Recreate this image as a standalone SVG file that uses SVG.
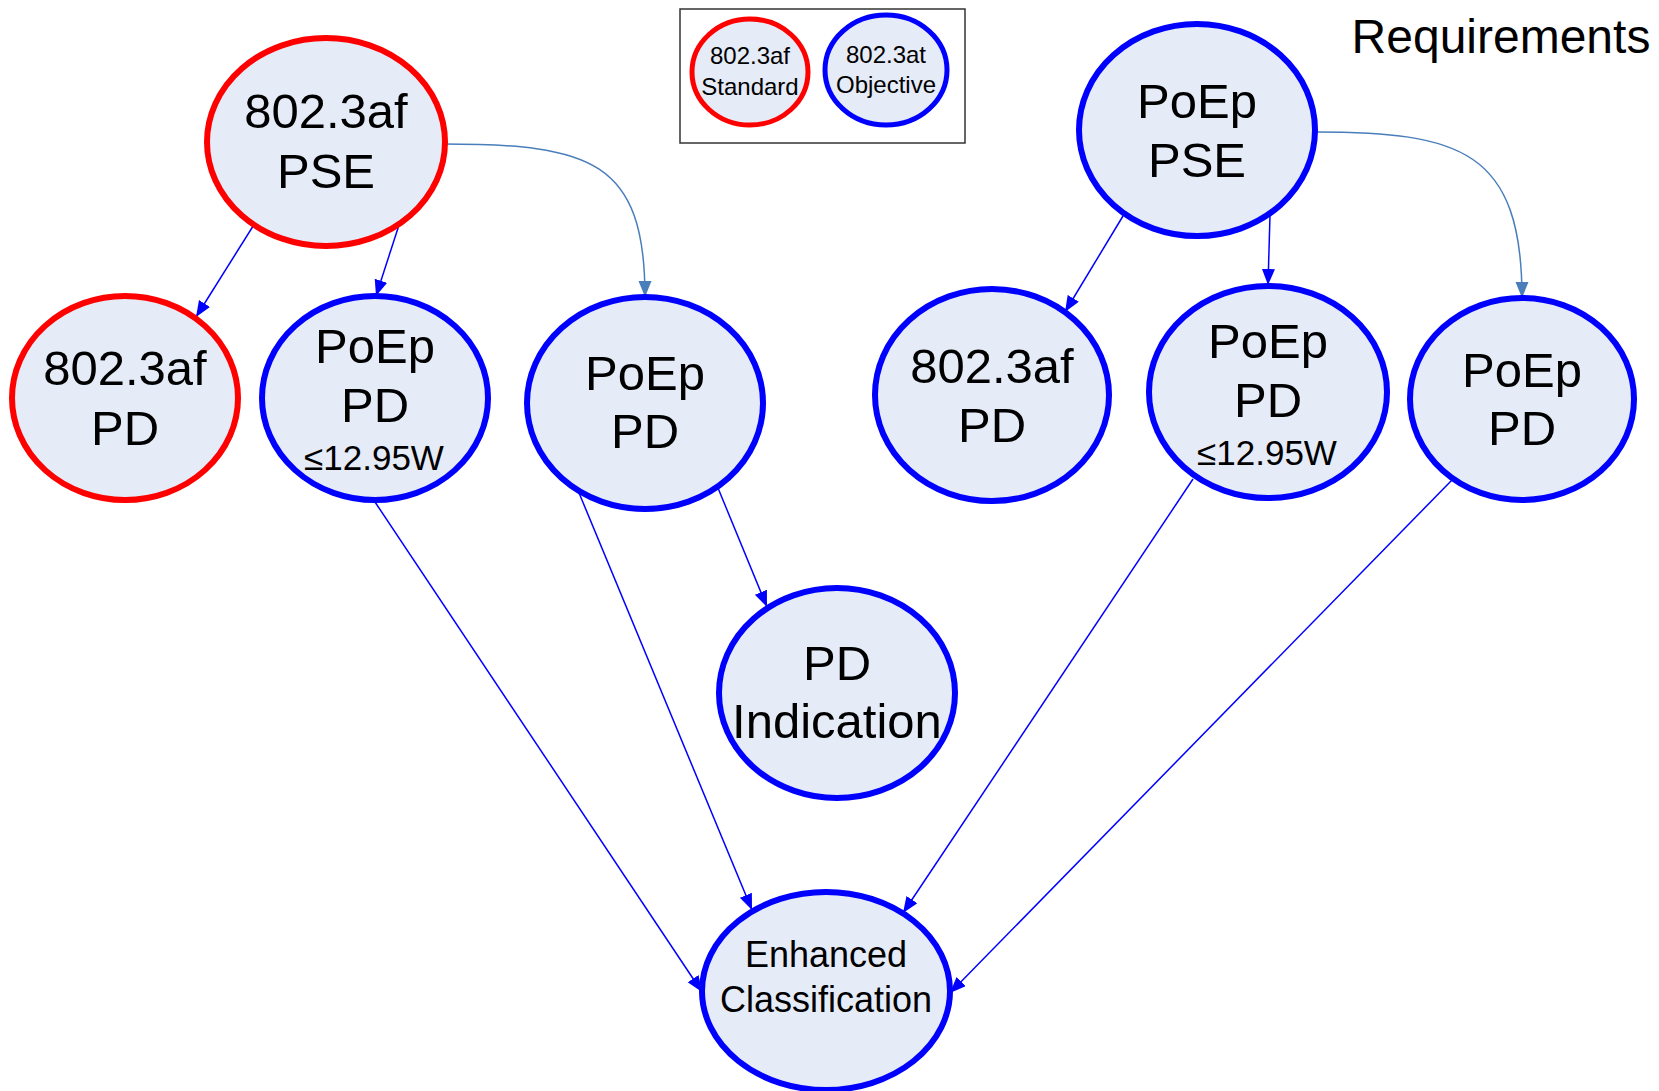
<svg xmlns="http://www.w3.org/2000/svg" width="1659" height="1091" viewBox="0 0 1659 1091">
<defs>
<style>
.node{fill:#e5ebf7;stroke-width:6}
.red{stroke:#ff0000}
.blue{stroke:#0000ff}
.t{font-family:"Liberation Sans",Arial,sans-serif;fill:#000;text-anchor:middle}
.big{font-size:49px}
.mid{font-size:36px}
.sm{font-size:24px}
.edge{fill:none;stroke:#0000ff;stroke-width:1.5;marker-end:url(#ah)}
.curve{fill:none;stroke:#4a7ebb;stroke-width:1.5;marker-end:url(#ahc)}
</style>
<marker id="ah" markerUnits="userSpaceOnUse" markerWidth="18" markerHeight="14" refX="16" refY="6.5" orient="auto">
<path d="M0,0 L16,6.5 L0,13 z" fill="#0000ff"/>
</marker>
<marker id="ahc" markerUnits="userSpaceOnUse" markerWidth="18" markerHeight="14" refX="16" refY="6.5" orient="auto">
<path d="M0,0 L16,6.5 L0,13 z" fill="#4a7ebb"/>
</marker>
</defs>
<rect width="1659" height="1091" fill="#ffffff"/>

<g id="connectors">
<path class="edge" d="M255,223 L196,317"/>
<path class="edge" d="M399,225 L376,296"/>
<path class="curve" d="M443,144 C590,144 645,160 645,297"/>
<path class="edge" d="M375,502 L702,992"/>
<path class="edge" d="M577,488 L752,910"/>
<path class="edge" d="M718,488 L767,607"/>
<path class="edge" d="M1193,479 L903,913"/>
<path class="edge" d="M1452,480 L950,993"/>
<path class="edge" d="M1123,216 L1065,312"/>
<path class="edge" d="M1270,215 L1268,285"/>
<path class="curve" d="M1315,132 C1460,132 1522,150 1522,298"/>
</g>

<g id="legend">
<rect x="680" y="9" width="285" height="134" fill="none" stroke="#333333" stroke-width="1.5"/>
<ellipse class="node red" cx="750" cy="72" rx="58" ry="53" style="stroke-width:5"/>
<text class="t sm" x="750" y="64">802.3af</text>
<text class="t sm" x="750" y="95">Standard</text>
<ellipse class="node blue" cx="886" cy="70" rx="61" ry="55" style="stroke-width:5"/>
<text class="t sm" x="886" y="63">802.3at</text>
<text class="t sm" x="886" y="93">Objective</text>
</g>

<g id="title">
<text class="t" x="1501" y="53" style="font-size:48px">Requirements</text>
</g>

<g id="n_af_pse">
<ellipse class="node red" cx="326" cy="142" rx="119" ry="104"/>
<text class="t big" x="326" y="128">802.3af</text>
<text class="t big" x="326" y="188">PSE</text>
</g>

<g id="n_af_pd_left">
<ellipse class="node red" cx="125" cy="398" rx="113" ry="102"/>
<text class="t big" x="125" y="385">802.3af</text>
<text class="t big" x="125" y="445">PD</text>
</g>

<g id="n_poep_pd_1295_left">
<ellipse class="node blue" cx="375" cy="398" rx="113" ry="102"/>
<text class="t big" x="375" y="363">PoEp</text>
<text class="t big" x="375" y="422">PD</text>
<text class="t mid" x="374" y="470" style="font-size:35px">≤12.95W</text>
</g>

<g id="n_poep_pd_mid">
<ellipse class="node blue" cx="645" cy="403" rx="118" ry="106"/>
<text class="t big" x="645" y="390">PoEp</text>
<text class="t big" x="645" y="448">PD</text>
</g>

<g id="n_pd_indication">
<ellipse class="node blue" cx="837" cy="693" rx="118" ry="105"/>
<text class="t big" x="837" y="680">PD</text>
<text class="t big" x="837" y="738">Indication</text>
</g>

<g id="n_enhanced">
<ellipse class="node blue" cx="826" cy="991" rx="124" ry="99"/>
<text class="t mid" x="826" y="967">Enhanced</text>
<text class="t mid" x="826" y="1012">Classification</text>
</g>

<g id="n_poep_pse">
<ellipse class="node blue" cx="1197" cy="130" rx="118" ry="106"/>
<text class="t big" x="1197" y="118">PoEp</text>
<text class="t big" x="1197" y="177">PSE</text>
</g>

<g id="n_af_pd_right">
<ellipse class="node blue" cx="992" cy="395" rx="117" ry="106"/>
<text class="t big" x="992" y="383">802.3af</text>
<text class="t big" x="992" y="442">PD</text>
</g>

<g id="n_poep_pd_1295_right">
<ellipse class="node blue" cx="1268" cy="392" rx="119" ry="106"/>
<text class="t big" x="1268" y="358">PoEp</text>
<text class="t big" x="1268" y="417">PD</text>
<text class="t mid" x="1267" y="465" style="font-size:35px">≤12.95W</text>
</g>

<g id="n_poep_pd_right">
<ellipse class="node blue" cx="1522" cy="399" rx="112" ry="101"/>
<text class="t big" x="1522" y="387">PoEp</text>
<text class="t big" x="1522" y="445">PD</text>
</g>
</svg>
